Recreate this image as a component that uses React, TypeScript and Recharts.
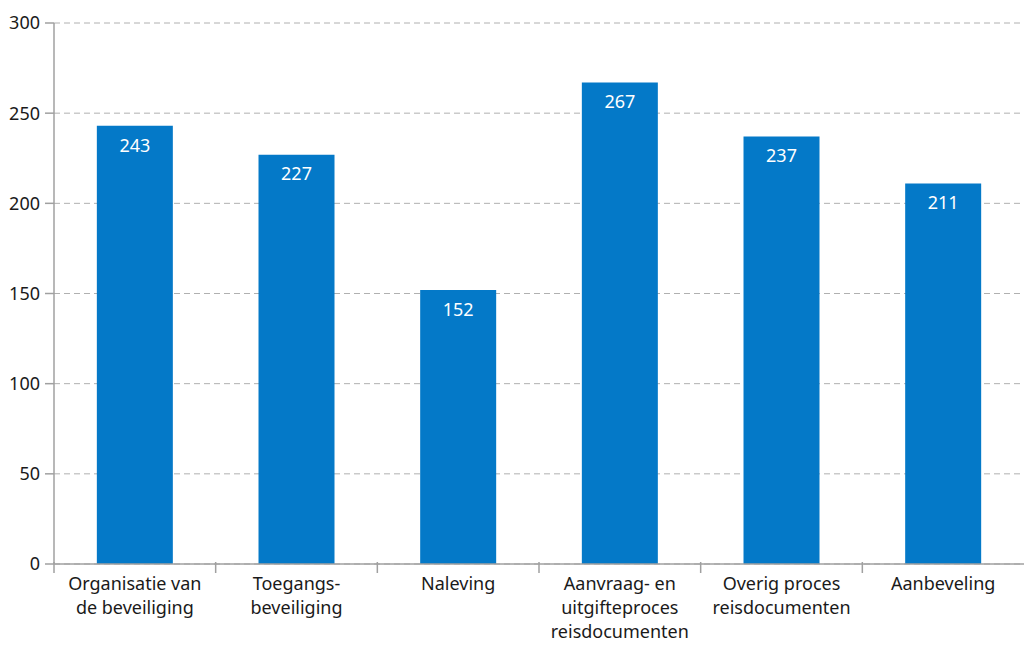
import { BarChart, Bar, XAxis, YAxis, CartesianGrid, LabelList } from 'recharts';

const categories = [
  'Organisatie van\nde beveiliging',
  'Toegangs-\nbeveiliging',
  'Naleving',
  'Aanvraag- en\nuitgifteproces\nreisdocumenten',
  'Overig proces\nreisdocumenten',
  'Aanbeveling',
];
const values = [243, 227, 152, 267, 237, 211];
const yTicks = [0, 50, 100, 150, 200, 250, 300];

const data = categories.map((c, i) => ({ name: c, value: values[i] }));

const FONT = '"Noto Sans", sans-serif';
const AXIS = '#a0a0a0';

function CategoryTick(props: any) {
  const { x, y, payload } = props;
  const lines = String(payload.value).split('\n');
  const half = payload.offset ?? 0;
  return (
    <g>
      {/* boundary tick between categories */}
      <line x1={x - half} x2={x - half} y1={y - 8} y2={y + 3} stroke={AXIS} strokeWidth={1.5} />
      <text x={x} y={y} textAnchor="middle" fontFamily={FONT} fontSize={18} fill="#1a1a1a">
        {lines.map((l, i) => (
          <tspan key={i} x={x} dy={i === 0 ? 20 : 24}>{l}</tspan>
        ))}
      </text>
    </g>
  );
}

export default function App() {
  return (
    <div style={{ position: 'absolute', left: 0, top: 0, width: 1024, height: 646, background: '#fff' }}>
      <BarChart
        width={1024}
        height={646}
        data={data}
        margin={{ top: 23, right: 0, bottom: 0, left: 0 }}
        barCategoryGap="26.5%"
      >
        <CartesianGrid vertical={false} stroke="#b0b0b0" strokeDasharray="6 4" />
        <XAxis
          dataKey="name"
          interval={0}
          height={82}
          tickLine={false}
          axisLine={{ stroke: AXIS, strokeWidth: 1.5 }}
          tick={<CategoryTick />}
          tickMargin={0}
        />
        <YAxis
          width={54}
          domain={[0, 300]}
          ticks={yTicks}
          interval={0}
          axisLine={{ stroke: AXIS, strokeWidth: 1.5 }}
          tickLine={{ stroke: AXIS, strokeWidth: 1.5 }}
          tickSize={9}
          tick={{ fontFamily: FONT, fontSize: 18, fill: '#1a1a1a' }}
          tickMargin={5}
        />
        <Bar dataKey="value" fill="#0479c8" isAnimationActive={false}>
          <LabelList
            dataKey="value"
            position="insideTop"
            offset={13}
            fill="#ffffff"
            fontFamily={FONT}
            fontSize={18}
          />
        </Bar>
      </BarChart>
    </div>
  );
}
